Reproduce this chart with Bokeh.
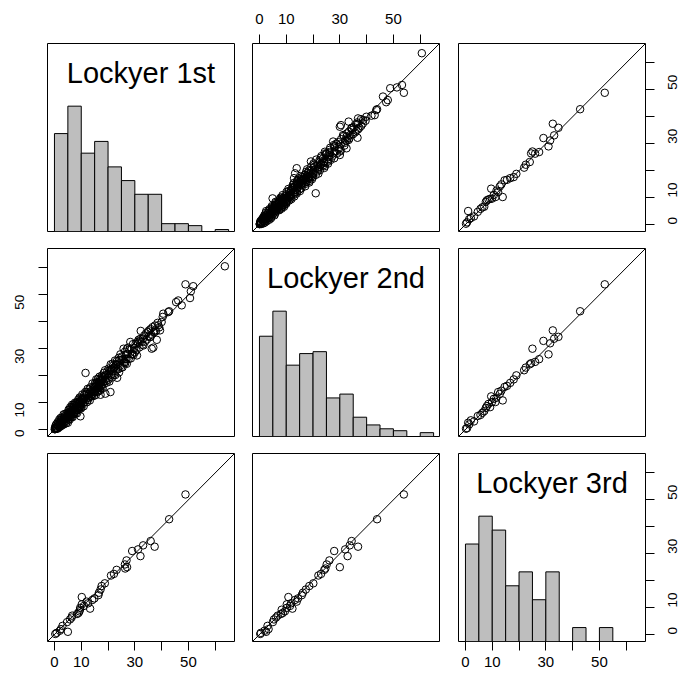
import math
from bokeh.plotting import figure
from bokeh.layouts import row, column
from bokeh.models import Range1d, LinearAxis, FixedTicker, Slope, ColumnDataSource
from bokeh.embed import file_html
from bokeh.resources import INLINE
from bokeh.core.properties import value

# ---------------- data ----------------
var_names = ["Lockyer 1st", "Lockyer 2nd", "Lockyer 3rd"]

bin_edges = [0, 5, 10, 15, 20, 25, 30, 35, 40, 45, 50, 55, 60, 65]
hist_1st = [50, 64, 40, 46, 33, 26, 19, 19, 4, 4, 3, 0, 1]
hist_2nd = [52, 65, 37, 43, 44, 20, 22, 10, 6, 4, 3, 0, 2]
hist_3rd = [7, 9, 8, 4, 5, 3, 5, 0, 1, 0, 1]

tick_values = [0, 10, 20, 30, 40, 50, 60]
tick_labels = ["0", "10", "", "30", "", "50", ""]

# observations with only 1st and 2nd values
l1_a = [
    0.1, 0.2, 0.2, 0.4, 0.5, 0.5, 0.7, 0.8, 1.0, 1.0, 1.2, 1.3, 1.3, 1.5, 1.6, 1.8, 1.9, 2.0, 2.0, 2.2,
    2.3, 2.5, 2.5, 2.6, 2.8, 2.9, 3.0, 3.1, 3.3, 3.4, 3.4, 3.6, 3.7, 3.8, 3.9, 4.0, 4.2, 4.3, 4.4, 4.6,
    4.7, 4.9, 5.0,
    5.1, 5.2, 5.3, 5.3, 5.4, 5.5, 5.6, 5.7, 5.8, 5.8, 5.9, 6.0, 6.1, 6.2, 6.2, 6.3, 6.4, 6.5, 6.6, 6.7,
    6.8, 6.8, 6.9, 7.0, 7.1, 7.2, 7.3, 7.4, 7.5, 7.5, 7.6, 7.7, 7.8, 7.9, 8.0, 8.1, 8.2, 8.3, 8.4, 8.5,
    8.6, 8.7, 8.8, 8.9, 9.0, 9.1, 9.2, 9.3, 9.4, 9.5, 9.6, 9.7, 9.7, 9.8, 9.9, 10.0,
    10.1, 10.3, 10.4, 10.6, 10.7, 10.9, 11.0, 11.2, 11.3, 11.5, 11.6, 11.8, 11.9, 12.1, 12.2, 12.4,
    12.5, 12.7, 12.8, 13.0, 13.2, 13.3, 13.5, 13.7, 13.8, 14.0, 14.2, 14.3, 14.5, 14.7, 14.8, 15.0,
    15.1, 15.2, 15.3, 15.4, 15.5, 15.6, 15.7, 15.8, 15.9, 16.0, 16.1, 16.2, 16.3, 16.5, 16.6, 16.7,
    16.8, 16.9, 17.0, 17.1, 17.2, 17.3, 17.5, 17.6, 17.7, 17.8, 17.9, 18.0, 18.2, 18.3, 18.4, 18.5,
    18.7, 18.8, 18.9, 19.0, 19.2, 19.4, 19.5, 19.7, 19.9,
    20.1, 20.2, 20.4, 20.5, 20.7, 20.9, 21.0, 21.2, 21.4, 21.5, 21.7, 21.9, 22.0, 22.2, 22.4, 22.6,
    22.7, 22.9, 23.1, 23.3, 23.4, 23.6, 23.8, 24.0, 24.1, 24.3, 24.5, 24.6, 24.8, 25.0,
    25.2, 25.4, 25.6, 25.8, 26.0, 26.3, 26.5, 26.7, 27.0, 27.3, 27.5, 27.7, 28.0, 28.3, 28.5, 28.8,
    29.0, 29.3, 29.5, 29.8, 30.0,
    30.3, 30.6, 30.8, 31.1, 31.4, 31.7, 32.0, 32.2, 32.6, 32.9, 33.2, 33.5, 33.8, 34.2, 34.5, 34.9,
    35.1, 35.3, 35.6, 35.9, 36.1, 36.3, 36.6, 36.9, 37.2, 37.5, 37.9, 38.2, 38.5, 38.8, 39.1, 39.4, 40.0,
    40.4, 40.6, 42.5, 45.4, 46.2, 47.5, 50.6, 50.9, 51.8, 63.6,
]
l2_a = [
    0.1, 0.7, 0.1, 1.4, 0.3, 0.7, 2.0, 0.4, 1.6, 0.3, 2.7, 1.3, 0.4, 2.3, 1.3, 3.7, 0.9, 2.4, 1.5, 3.4,
    4.3, 1.3, 2.8, 2.0, 4.4, 2.7, 3.9, 1.7, 3.4, 5.6, 2.6, 4.2, 2.0, 4.9, 3.8, 5.8, 3.1, 4.6, 2.4, 6.0,
    4.2, 5.6, 3.7,
    6.3, 4.6, 7.4, 3.8, 5.7, 5.3, 7.3, 3.7, 6.6, 4.9, 8.3, 6.1, 4.8, 7.2, 5.8, 8.2, 4.6, 7.0, 9.2, 5.6,
    7.0, 4.6, 8.3, 6.3, 8.0, 9.2, 5.7, 7.8, 7.2, 9.1, 6.4, 10.0, 7.3, 9.0, 6.1, 8.7, 10.0, 7.3, 6.0, 9.2,
    10.1, 7.3, 8.8, 11.1, 8.2, 10.4, 7.5, 9.8, 11.9, 8.3, 10.5, 4.9, 11.6, 9.2, 7.8, 11.2,
    8.3, 11.4, 13.0, 9.9, 11.0, 8.6, 12.7, 11.8, 10.1, 13.9, 21.0, 11.4, 13.3, 10.1, 13.1, 15.1,
    11.0, 12.9, 11.9, 14.9, 10.8, 14.1, 15.7, 12.6, 14.2, 12.3, 17.1, 14.0, 15.8, 12.5, 15.5, 14.0,
    17.2, 13.8, 15.8, 12.8, 16.7, 18.6, 15.1, 17.6, 14.0, 16.2, 15.3, 18.7, 14.1, 17.5, 16.7, 15.4,
    19.6, 16.5, 18.5, 14.6, 12.9, 18.2, 16.5, 19.9, 16.0, 18.2, 19.5, 15.2, 18.9, 17.8, 21.0, 17.0,
    19.8, 18.6, 22.0, 13.3, 18.0, 20.2, 17.4, 21.6, 19.2,
    18.5, 22.6, 20.7, 17.8, 22.1, 13.9, 24.2, 20.3, 22.4, 19.3, 24.4, 21.6, 23.8, 20.4, 23.0, 25.6,
    20.2, 24.1, 22.5, 25.4, 19.2, 24.1, 22.4, 26.6, 21.2, 25.8, 23.7, 27.9, 22.9, 25.9,
    27.1, 23.1, 26.0, 30.0, 24.8, 28.9, 26.1, 27.9, 24.4, 28.1, 30.4, 26.2, 29.6, 32.5, 26.4, 29.8,
    28.1, 31.7, 27.7, 30.3, 28.7,
    31.8, 29.4, 27.5, 32.6, 33.3, 30.5, 33.6, 36.6, 32.5, 31.5, 31.2, 34.9, 32.6, 35.7, 33.4, 36.2,
    34.6, 36.8, 34.3, 37.3, 35.2, 30.0, 38.0, 30.4, 36.1, 38.6, 36.5, 33.3, 39.6, 38.7, 37.9, 36.8, 39.9,
    41.8, 43.0, 43.6, 47.3, 47.9, 46.1, 48.8, 51.3, 53.2, 60.6,
]

# observations with all three values
l1_b = [0.3, 0.8, 5.0, 2.0, 2.4, 3.0, 4.7, 5.8, 6.4, 6.6, 8.4, 9.0, 9.3, 9.5, 13.3, 9.6, 11.0, 10.2,
        12.6, 12.0, 14.1, 14.9, 10.2, 16.4, 16.6, 17.2, 17.6, 18.8, 21.1, 22.2, 23.2, 26.4, 27.1, 26.3,
        26.9, 32.1, 29.0, 31.2, 33.1, 37.4, 35.9, 42.8, 48.9]
l2_b = [0.3, 0.5, 2.5, 1.9, 3.4, 3.0, 5.0, 5.4, 6.2, 6.8, 8.0, 8.7, 9.5, 8.3, 12.3, 10.2, 11.4, 10.2,
        11.8, 13.9, 13.2, 14.4, 10.8, 15.8, 16.2, 17.3, 18.6, 20.1, 22.0, 23.0, 24.2, 24.6, 30.0, 25.1,
        26.1, 32.9, 27.9, 32.0, 33.7, 36.8, 34.4, 43.9, 53.9]
l3_b = [0.2, 0.6, 1.0, 1.4, 2.0, 3.2, 4.6, 5.6, 6.3, 7.0, 7.6, 8.0, 8.6, 9.2, 9.6, 9.9, 10.6, 11.2,
        11.6, 12.2, 12.8, 13.4, 13.9, 14.6, 15.5, 16.7, 18.0, 19.0, 21.9, 22.5, 24.0, 24.5, 25.0, 26.0,
        27.5, 29.1, 31.0, 31.6, 33.1, 32.6, 34.7, 42.8, 52.0]

# ---------------- layout ----------------
LIM = (-2.6, 67.2)
FW, FH = 187, 188
col_left = [47, 9, 11]
col_right = [9, 8, 36]
row_top = [43, 9, 9]
row_bottom = [8, 8, 41]
FONT = "Liberation Sans"

hists = [hist_1st, hist_2nd, hist_3rd]
full = [l1_a + l1_b, l2_a + l2_b]
sub = [l1_b, l2_b, l3_b]


def pair_values(i, j):
    if i == 2 or j == 2:
        return sub[j], sub[i]
    return full[j], full[i]


def make_axis(side, **kw):
    ax = LinearAxis(**kw)
    ax.ticker = FixedTicker(ticks=tick_values)
    ax.major_label_overrides = {t: lab for t, lab in zip(tick_values, tick_labels)}
    ax.axis_line_color = None
    ax.major_tick_out = 9
    ax.major_tick_in = 0
    ax.major_tick_line_color = "black"
    ax.major_tick_line_width = 1
    ax.minor_tick_line_color = None
    ax.major_label_text_font = FONT
    ax.major_label_text_color = "black"
    if side in ("left", "right"):
        ax.major_label_orientation = math.pi / 2
        ax.major_label_text_font_size = "13.5px"
        ax.major_label_standoff = 19 if side == "left" else 18
    else:
        ax.major_label_text_font_size = "15px"
        ax.major_label_standoff = 11 if side == "above" else 6
    return ax


rows = []
for i in range(3):
    figs = []
    for j in range(3):
        diag = i == j
        p = figure(frame_width=FW, frame_height=FH,
                   x_range=Range1d(*LIM),
                   y_range=Range1d(0, 1.5) if diag else Range1d(*LIM),
                   x_axis_location=None, y_axis_location=None,
                   toolbar_location=None, output_backend="svg",
                   min_border_left=col_left[j], min_border_right=col_right[j],
                   min_border_top=row_top[i], min_border_bottom=row_bottom[i],
                   background_fill_color="white", border_fill_color="white")
        p.grid.visible = False
        p.outline_line_color = "black"
        p.outline_line_width = 1
        p.outline_line_alpha = 1
        p.extra_y_ranges = {"vals": Range1d(*LIM)}

        if diag:
            counts = hists[i]
            mx = max(counts)
            src = ColumnDataSource(dict(
                left=bin_edges[:len(counts)],
                right=bin_edges[1:len(counts) + 1],
                top=[c / mx for c in counts],
                bottom=[0] * len(counts)))
            p.quad(left="left", right="right", top="top", bottom="bottom", source=src,
                   fill_color="#BEBEBE", line_color="black", line_width=1)
            tsrc = ColumnDataSource(dict(x=[(LIM[0] + LIM[1]) / 2], y=[1.263], t=[var_names[i]]))
            p.text(x="x", y="y", text="t", source=tsrc, text_font=value(FONT),
                   text_font_size="29px", text_align="center", text_baseline="middle",
                   text_color="black")
        else:
            xs, ys = pair_values(i, j)
            p.scatter(xs, ys, marker="circle", size=7.5, fill_color=None,
                      line_color="black", line_width=1)
            p.add_layout(Slope(gradient=1, y_intercept=0, line_color="black", line_width=1))

        # R pairs() axis placement
        if i == 0 and j % 2 == 1:
            p.add_layout(make_axis("above"), "above")
        if i == 2 and j % 2 == 0:
            p.add_layout(make_axis("below"), "below")
        if j == 0 and i % 2 == 1:
            p.add_layout(make_axis("left", y_range_name="vals"), "left")
        if j == 2 and i % 2 == 0:
            p.add_layout(make_axis("right", y_range_name="vals"), "right")
        figs.append(p)
    rows.append(row(*figs, spacing=0))

layout = column(*rows, spacing=0)

open("out.html", "w").write(file_html(layout, INLINE))
